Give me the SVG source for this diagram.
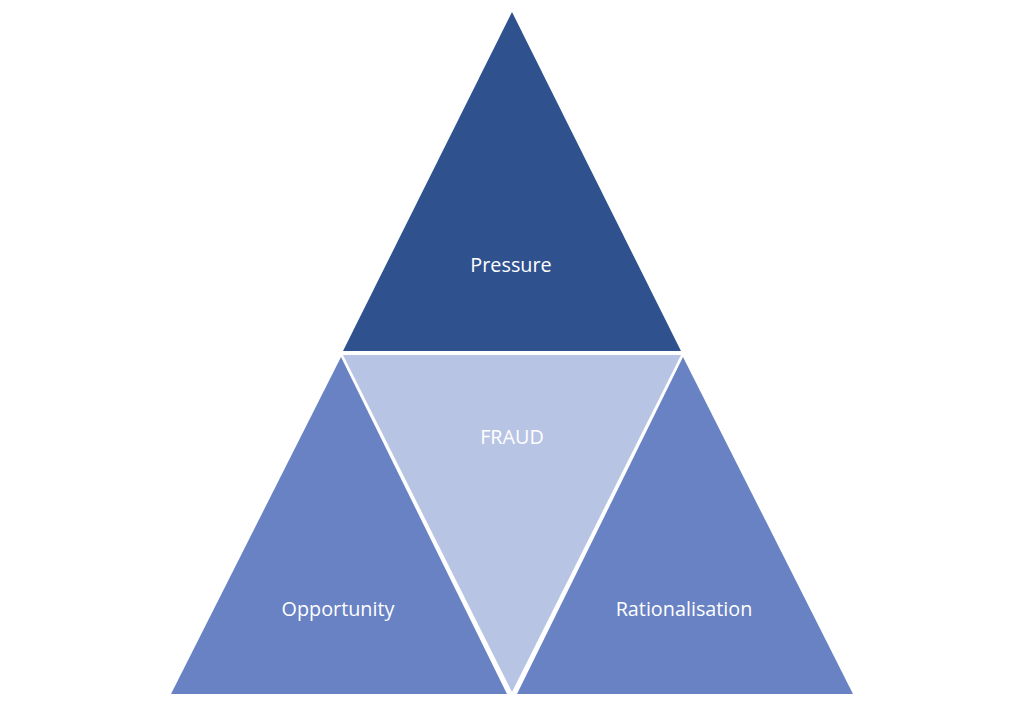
<svg xmlns="http://www.w3.org/2000/svg" width="1023" height="704" viewBox="0 0 1023 704">
<style>
.lbl{font-family:"Open Sans","Noto Sans",sans-serif;font-size:19.8px;fill:#ffffff;text-anchor:middle}
</style>
<rect width="1023" height="704" fill="#ffffff"/>
<g id="pressure">
<polygon points="512,12 343,351 681,351" fill="#2F528F"/>
<text class="lbl" x="511" y="272">Pressure</text>
</g>
<g id="fraud">
<polygon points="343,355 681,355 512,692" fill="#B8C4E3"/>
<text class="lbl" x="512" y="444">FRAUD</text>
</g>
<g id="opportunity">
<polygon points="341,357 171,694 507,694" fill="#6882C4"/>
<text class="lbl" x="338" y="616">Opportunity</text>
</g>
<g id="rationalisation">
<polygon points="683,357 517,694 853,694" fill="#6882C4"/>
<text class="lbl" x="684" y="616">Rationalisation</text>
</g>
<g id="connectors"></g>
</svg>
